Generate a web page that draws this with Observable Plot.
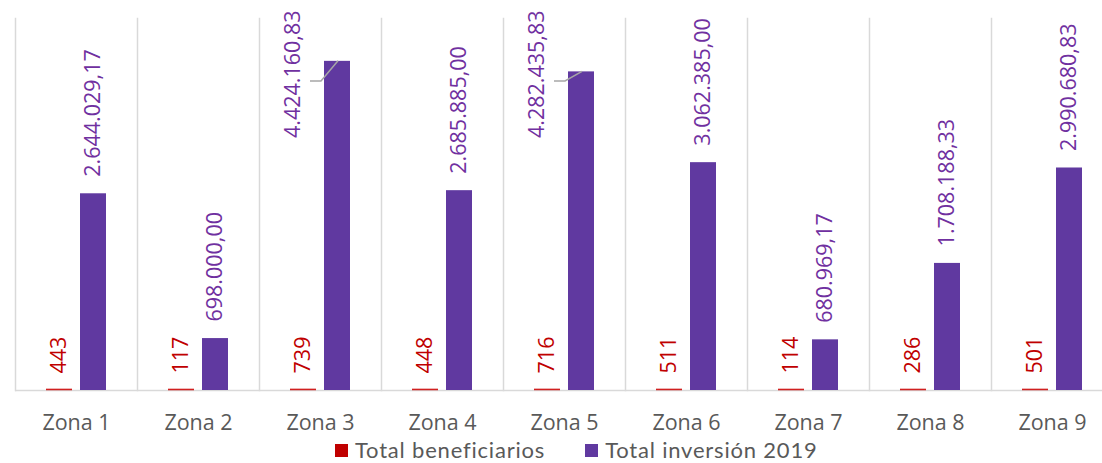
<!DOCTYPE html>
<html>
<head>
<meta charset="utf-8">
<script src="https://cdn.jsdelivr.net/npm/d3@7"></script>
<script src="https://cdn.jsdelivr.net/npm/@observablehq/plot@0.6"></script>
<style>
  body { margin: 0; background: #fff; font-family: "Open Sans", sans-serif; }
  #chart svg { display: block; }
  .legend { display: flex; align-items: center; height: 26px; margin-left: 335px; font-family: Lato, sans-serif; font-size: 22px; letter-spacing: 0.8px; color: #595959; line-height: 26px; }
  .legend .item { display: flex; align-items: center; }
  .legend .sw { width: 13px; height: 13px; display: inline-block; margin-right: 7px; margin-top: 1px; }
  .legend .item + .item { margin-left: 40px; }
</style>
</head>
<body>
<div id="chart"></div>
<div class="legend">
  <span class="item"><span class="sw" style="background:#c00000"></span>Total beneficiarios</span>
  <span class="item"><span class="sw" style="background:#6039a0"></span>Total inversión 2019</span>
</div>
<script>
const zonas = ["Zona 1","Zona 2","Zona 3","Zona 4","Zona 5","Zona 6","Zona 7","Zona 8","Zona 9"];
const beneficiarios = [443, 117, 739, 448, 716, 511, 114, 286, 501];
const inversion = [2644029.17, 698000.00, 4424160.83, 2685885.00, 4282435.83, 3062385.00, 680969.17, 1708188.33, 2990680.83];
const series = ["Total beneficiarios", "Total inversión 2019"];

const fmt = (v, d) => v.toLocaleString("de-DE", {minimumFractionDigits: d, maximumFractionDigits: d});

const ben = zonas.map((z, i) => ({zona: z, serie: series[0], value: beneficiarios[i], label: fmt(beneficiarios[i], 0)}));
const inv = zonas.map((z, i) => ({zona: z, serie: series[1], value: inversion[i], label: fmt(inversion[i], 2)}));
const yMax = 5000000;
// labels that would not fit above the bar are moved beside it (as in the original)
const overflow = d => d.value > 4000000;

const marginTop = 18, marginLeft = 13;
const chart = Plot.plot({
  width: 1102,
  height: 437,
  marginLeft,
  marginRight: -12,
  marginTop,
  marginBottom: 47,
  style: {fontFamily: "Open Sans, sans-serif", background: "#fff"},
  fx: {domain: zonas, padding: 0, label: null, axis: "bottom", tickSize: 0, tickPadding: 24},
  x: {domain: series, paddingInner: 0.229, paddingOuter: 0.863, axis: null},
  y: {domain: [0, yMax], axis: null},
  marks: [
    Plot.frame({anchor: "left", stroke: "#d9d9d9", strokeWidth: 1.5}),
    Plot.ruleY([0], {stroke: "#d9d9d9", strokeWidth: 1.5}),
    Plot.barY(inv, {fx: "zona", x: "serie", y: "value", fill: "#6039a0"}),
    Plot.tickY(ben, {fx: "zona", x: "serie", y: "value", stroke: "#d02020", strokeWidth: 1.6, dy: -1}),
    Plot.text(ben, {fx: "zona", x: "serie", y: "value", text: "label", rotate: -90, textAnchor: "start", lineAnchor: "middle", dy: -17, fill: "#c00000", fontSize: 21.5}),
    Plot.text(inv.filter(d => !overflow(d)), {fx: "zona", x: "serie", y: "value", text: "label", rotate: -90, textAnchor: "start", lineAnchor: "middle", dy: -17, fill: "#7030a0", fontSize: 21.5}),
    Plot.text(inv.filter(overflow), {fx: "zona", x: "serie", frameAnchor: "top", text: "label", rotate: -90, textAnchor: "end", lineAnchor: "middle", dx: -44, dy: -8, fill: "#7030a0", fontSize: 21.5})
  ]
});
const ax = chart.querySelector('g[aria-label="fx-axis tick label"]');
if (ax) { ax.setAttribute("font-size", "21.5"); ax.setAttribute("fill", "#595959"); }

// leader lines for the moved labels, positioned with the chart's own scales
try {
  const fxS = chart.scale("fx"), xS = chart.scale("x"), yS = chart.scale("y");
  const svg = d3.select(chart.tagName.toLowerCase() === "svg" ? chart : chart.querySelector("svg"));
  const x0 = Math.min(...xS.range);
  for (const d of inv.filter(overflow)) {
    const L = fxS.apply(d.zona) + (xS.apply(d.serie) - x0);
    const T = yS.apply(d.value);
    const K = marginTop + 63;
    svg.append("path")
      .attr("d", `M${L - 14},${K}H${L - 3}L${L + 14},${T}`)
      .attr("fill", "none").attr("stroke", "#a6a6a6").attr("stroke-width", 1.5);
  }
} catch (e) { console.error(e); }

document.getElementById("chart").appendChild(chart);
</script>
</body>
</html>
